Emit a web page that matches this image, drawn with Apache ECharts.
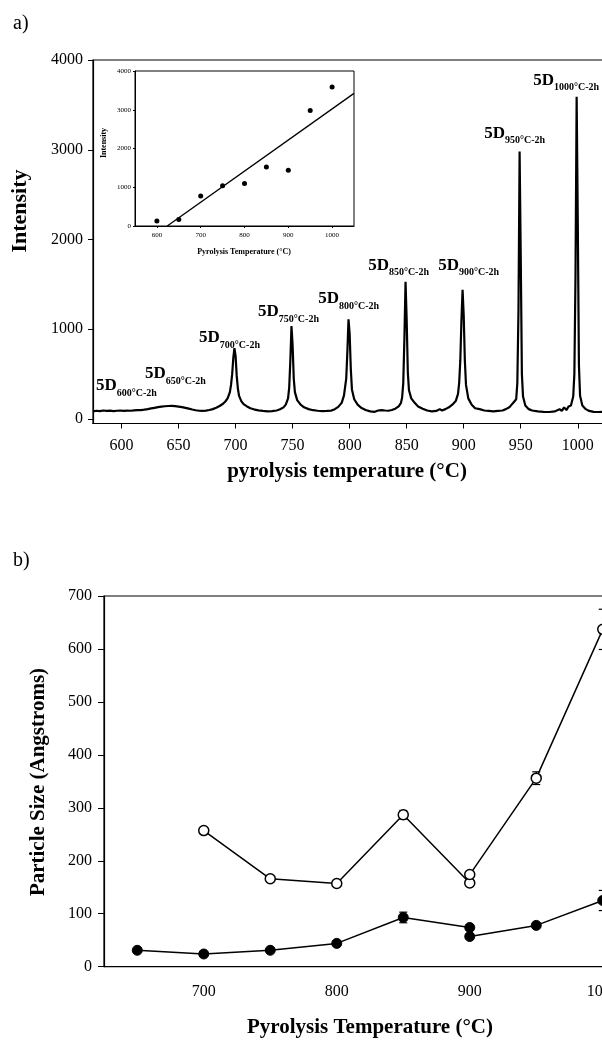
<!DOCTYPE html>
<html>
<head>
<meta charset="utf-8">
<script src="https://cdn.jsdelivr.net/npm/echarts@6/dist/echarts.min.js"></script>
<style>
  html, body { margin: 0; padding: 0; background: #fff; overflow: hidden; }
  /* the plot areas run past the right edge of the page, so the canvas is wider than the view */
  #chart { width: 660px; height: 1040px; }
</style>
</head>
<body>
<div id="chart"></div>
<script>
// ---- (a) XRD-style intensity trace vs pyrolysis temperature ----
const traceTemp = [
  575, 578, 581, 584, 587, 590, 593, 596, 599, 602, 605, 608, 611, 614, 617, 620, 623, 626, 629, 632,
  635, 638, 641, 644, 647, 650, 653, 656, 659, 662, 665, 668, 671, 674, 677, 680, 683, 686, 689, 691,
  693, 695, 696, 697, 698, 699, 700, 701, 702, 703, 705, 707, 710, 713, 716, 720, 724, 728, 732, 736,
  739, 742, 744, 746, 747, 748, 749, 750, 751, 752, 754, 757, 760, 764, 768, 772, 776, 780, 784, 787,
  790, 793, 795, 797, 798, 799, 800, 801, 802, 804, 807, 810, 814, 818, 822, 825, 828, 831, 834, 837,
  840, 843, 845, 846, 847, 848, 849, 850, 851, 852, 854, 857, 860, 864, 868, 872, 876, 879, 881, 884,
  887, 890, 893, 895, 896, 897, 898, 899, 900, 901, 902, 904, 907, 910, 914, 918, 922, 926, 930, 934,
  937, 940, 942, 944, 945, 946, 947, 948, 949, 950, 951, 952, 954, 957, 960, 965, 970, 975, 980, 984,
  986, 988, 990, 992, 994, 996, 997, 998, 999, 1000, 1001, 1002, 1004, 1007, 1010, 1014, 1018, 1022, 1026, 1030
];
const traceIntensity = [
  85, 92, 88, 95, 90, 93, 88, 92, 95, 90, 94, 92, 96, 98, 100, 104, 110, 118, 125, 132,
  138, 142, 145, 146, 143, 138, 132, 124, 115, 106, 98, 92, 90, 94, 100, 110, 125, 145, 170, 195,
  230, 300, 380, 500, 680, 790, 700, 480, 340, 260, 200, 165, 140, 120, 108, 96, 90, 86, 88, 95,
  108, 130, 160, 230, 350, 650, 1035, 820, 450, 300, 210, 160, 130, 110, 98, 92, 88, 90, 94, 110,
  135, 180, 260, 450, 750, 1110, 950, 560, 330, 220, 160, 125, 100, 85, 80, 95, 100, 95, 92, 100,
  115, 140, 180, 240, 400, 900, 1530, 1100, 520, 320, 230, 180, 140, 115, 95, 85, 90, 110, 95, 110,
  130, 160, 200, 280, 400, 650, 1100, 1440, 1150, 650, 380, 230, 160, 120, 110, 95, 90, 85, 90, 95,
  110, 130, 160, 190, 170, 220, 400, 1200, 2980, 1800, 500, 250, 150, 110, 95, 85, 80, 78, 85, 110,
  90, 130, 100, 140, 150, 250, 500, 1600, 3590, 2200, 600, 260, 150, 110, 90, 80, 78, 80, 78, 80
];
const peakTemps = [600, 650, 700, 750, 800, 850, 900, 950, 1000];
const aXTicks = [600, 650, 700, 750, 800, 850, 900, 950, 1000];
const aYTicks = [0, 1000, 2000, 3000, 4000];

// ---- (a) inset: peak intensity vs pyrolysis temperature ----
const insetTemp = [600, 650, 700, 750, 800, 850, 900, 950, 1000];
const insetIntensity = [130, 170, 775, 1040, 1100, 1520, 1440, 2980, 3590];
const insetXTicks = [600, 700, 800, 900, 1000];

// ---- (b) particle size vs pyrolysis temperature ----
const openTemp = [700, 750, 800, 850, 900, 900, 950, 1000];
const openSize = [257, 166, 157, 287, 158, 174, 356, 637];
const openErr = [4, 3, 3, 8, 3, 5, 12, 38];
const filledTemp = [650, 700, 750, 800, 850, 900, 900, 950, 1000];
const filledSize = [31, 24, 31, 44, 93, 74, 57, 78, 125];
const filledErr = [3, 3, 3, 4, 10, 5, 4, 4, 19];
const bXTicks = [700, 800, 900, 1000];

// ---- layout helpers ----
const SERIF = "'Liberation Serif', 'DejaVu Serif', serif";
// label anchor (left edge / vertical centre of "5D") for each peak annotation
const labelSpots = [
  [577.6, 368], [620.6, 502], [668, 903], [719.7, 1193], [772.4, 1338],
  [816.2, 1706], [877.6, 1706], [918, 3178], [961, 3769]
];

// least-squares fit for the inset trend line
function linearFit(xs, ys) {
  const n = xs.length;
  const mx = xs.reduce((a, b) => a + b, 0) / n;
  const my = ys.reduce((a, b) => a + b, 0) / n;
  let sxy = 0, sxx = 0;
  for (let i = 0; i < n; i++) { sxy += (xs[i] - mx) * (ys[i] - my); sxx += (xs[i] - mx) ** 2; }
  const m = sxy / sxx;
  return { m, b: my - m * mx };
}
const fit = linearFit(insetTemp, insetIntensity);
const fitX0 = Math.max(550, -fit.b / fit.m);
const fitLine = [[fitX0, fit.m * fitX0 + fit.b], [1050, fit.m * 1050 + fit.b]];

const zip = (a, b) => a.map((v, i) => [v, b[i]]);
const zip3 = (a, b, c) => a.map((v, i) => [v, b[i], c[i]]);
const plain = v => String(v);

const axisBase = {
  axisLine: { onZero: false, lineStyle: { color: '#000', width: 1.2 } },
  splitLine: { show: false },
};

function errorBars(params, api) {
  const x = api.value(0), y = api.value(1), e = api.value(2);
  const top = api.coord([x, y + e]);
  const bot = api.coord([x, y - e]);
  const w = 4;
  const st = { stroke: '#000', lineWidth: 1.2 };
  return {
    type: 'group',
    children: [
      { type: 'line', shape: { x1: top[0], y1: top[1], x2: bot[0], y2: bot[1] }, style: st },
      { type: 'line', shape: { x1: top[0] - w, y1: top[1], x2: top[0] + w, y2: top[1] }, style: st },
      { type: 'line', shape: { x1: bot[0] - w, y1: bot[1], x2: bot[0] + w, y2: bot[1] }, style: st }
    ]
  };
}

const chart = echarts.init(document.getElementById('chart'), null, { renderer: 'canvas' });

const option = {
  backgroundColor: '#fff',
  animation: false,
  grid: [
    { left: 93, top: 60, width: 519, height: 363.5, show: true, borderColor: '#000', borderWidth: 1.2 },
    { left: 135, top: 71, width: 219, height: 155, show: true, borderColor: '#000', borderWidth: 1 },
    { left: 104, top: 596, width: 532, height: 370.7, show: true, borderColor: '#000', borderWidth: 1.2 }
  ],
  xAxis: [
    Object.assign({}, axisBase, {
      gridIndex: 0, type: 'value', min: 575, max: 1030,
      axisTick: { customValues: aXTicks, length: 5, lineStyle: { color: '#000' } },
      axisLabel: { customValues: aXTicks, formatter: plain, fontFamily: SERIF, fontSize: 16, color: '#000', margin: 14 }
    }),
    Object.assign({}, axisBase, {
      gridIndex: 1, type: 'value', min: 550, max: 1050,
      axisLine: { onZero: false, lineStyle: { color: '#000', width: 1 } },
      axisTick: { customValues: insetXTicks, length: 2, lineStyle: { color: '#000' } },
      axisLabel: { customValues: insetXTicks, formatter: plain, fontFamily: SERIF, fontSize: 7, color: '#000', margin: 6 }
    }),
    Object.assign({}, axisBase, {
      gridIndex: 2, type: 'value', min: 625, max: 1025,
      axisTick: { show: false },
      axisLabel: { customValues: bXTicks, formatter: plain, fontFamily: SERIF, fontSize: 16, color: '#000', margin: 17 }
    })
  ],
  yAxis: [
    Object.assign({}, axisBase, {
      gridIndex: 0, type: 'value', min: -50, max: 4000,
      axisTick: { customValues: aYTicks, length: 5, lineStyle: { color: '#000' } },
      axisLabel: { customValues: aYTicks, formatter: plain, fontFamily: SERIF, fontSize: 16, color: '#000', margin: 10 }
    }),
    Object.assign({}, axisBase, {
      gridIndex: 1, type: 'value', min: 0, max: 4000, interval: 1000,
      axisLine: { onZero: false, lineStyle: { color: '#000', width: 1 } },
      axisTick: { length: 2, lineStyle: { color: '#000' } },
      axisLabel: { formatter: plain, fontFamily: SERIF, fontSize: 7, color: '#000', margin: 4 }
    }),
    Object.assign({}, axisBase, {
      gridIndex: 2, type: 'value', min: 0, max: 700, interval: 100,
      axisTick: { length: 6, lineStyle: { color: '#000' } },
      axisLabel: { formatter: plain, fontFamily: SERIF, fontSize: 16, color: '#000', margin: 12 }
    })
  ],
  series: [
    {
      type: 'line', xAxisIndex: 0, yAxisIndex: 0,
      data: zip(traceTemp, traceIntensity),
      showSymbol: false, lineStyle: { color: '#000', width: 2.2 }, z: 3
    },
    {
      type: 'scatter', xAxisIndex: 0, yAxisIndex: 0, symbolSize: 0, silent: true,
      itemStyle: { opacity: 1 },
      data: peakTemps.map((t, i) => ({ value: labelSpots[i], name: String(t) })),
      label: {
        show: true, position: 'right', distance: 0, color: '#000',
        formatter: p => '{big|5D}{sub|' + p.name + '°C-2h}',
        rich: {
          big: { fontFamily: SERIF, fontWeight: 'bold', fontSize: 17, lineHeight: 26, color: '#000' },
          sub: { fontFamily: SERIF, fontWeight: 'bold', fontSize: 10, lineHeight: 12, padding: [14, 0, 0, 0], color: '#000' }
        }
      },
      z: 5
    },
    {
      type: 'scatter', xAxisIndex: 1, yAxisIndex: 1,
      data: zip(insetTemp, insetIntensity),
      symbol: 'circle', symbolSize: 5, itemStyle: { color: '#000', opacity: 1 }, z: 4
    },
    {
      type: 'line', xAxisIndex: 1, yAxisIndex: 1,
      data: fitLine, showSymbol: false, lineStyle: { color: '#000', width: 1.3 }, z: 4
    },
    {
      type: 'custom', xAxisIndex: 2, yAxisIndex: 2,
      data: zip3(openTemp, openSize, openErr), renderItem: errorBars, z: 2
    },
    {
      type: 'custom', xAxisIndex: 2, yAxisIndex: 2,
      data: zip3(filledTemp, filledSize, filledErr), renderItem: errorBars, z: 2
    },
    {
      type: 'line', xAxisIndex: 2, yAxisIndex: 2,
      data: zip(openTemp, openSize),
      symbol: 'circle', symbolSize: 10, showAllSymbol: true,
      lineStyle: { color: '#000', width: 1.5 },
      itemStyle: { color: '#fff', borderColor: '#000', borderWidth: 1.5 }, z: 4
    },
    {
      type: 'line', xAxisIndex: 2, yAxisIndex: 2,
      data: zip(filledTemp, filledSize),
      symbol: 'circle', symbolSize: 10, showAllSymbol: true,
      lineStyle: { color: '#000', width: 1.5 },
      itemStyle: { color: '#000', borderColor: '#000', borderWidth: 1 }, z: 4
    }
  ],
  graphic: [
    { type: 'text', x: 13, y: 24, style: { text: 'a)', font: "20px " + SERIF, fill: '#000', textVerticalAlign: 'middle' } },
    { type: 'text', x: 13, y: 561, style: { text: 'b)', font: "20px " + SERIF, fill: '#000', textVerticalAlign: 'middle' } },
    { type: 'text', x: 20, y: 211, rotation: Math.PI / 2,
      style: { text: 'Intensity', font: "bold 22px " + SERIF, fill: '#000', textAlign: 'center', textVerticalAlign: 'middle' } },
    { type: 'text', x: 347, y: 472,
      style: { text: 'pyrolysis temperature (°C)', font: "bold 21px " + SERIF, fill: '#000', textAlign: 'center', textVerticalAlign: 'middle' } },
    { type: 'text', x: 104, y: 143, rotation: Math.PI / 2,
      style: { text: 'Intensity', font: "bold 8px " + SERIF, fill: '#000', textAlign: 'center', textVerticalAlign: 'middle' } },
    { type: 'text', x: 244, y: 252,
      style: { text: 'Pyrolysis Temperature (°C)', font: "bold 8px " + SERIF, fill: '#000', textAlign: 'center', textVerticalAlign: 'middle' } },
    { type: 'text', x: 39, y: 782, rotation: Math.PI / 2,
      style: { text: 'Particle Size (Angstroms)', font: "bold 21px " + SERIF, fill: '#000', textAlign: 'center', textVerticalAlign: 'middle' } },
    { type: 'text', x: 370, y: 1028,
      style: { text: 'Pyrolysis Temperature (°C)', font: "bold 21px " + SERIF, fill: '#000', textAlign: 'center', textVerticalAlign: 'middle' } }
  ]
};

chart.setOption(option);
</script>
</body>
</html>
